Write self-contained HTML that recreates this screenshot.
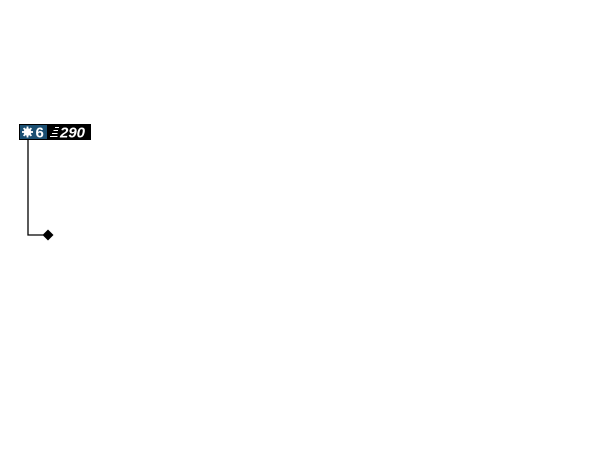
<!DOCTYPE html>
<html><head><style>
body{margin:0;width:600px;height:468px;background:#fff;position:relative;font-family:"Liberation Sans",sans-serif;}
</style></head><body>
<svg width="600" height="468" style="position:absolute;left:0;top:0">
<rect x="19" y="124" width="72" height="16" fill="#000"/>
<rect x="20" y="125" width="27" height="14" fill="#1b4f72"/>
<g fill="#fff">
<circle cx="27.5" cy="132" r="3.8"/>
<g stroke="#fff" stroke-width="1.8">
<line x1="27.5" y1="126.5" x2="27.5" y2="137.5"/><line x1="22" y1="132" x2="33" y2="132"/>
<line x1="23.6" y1="128.1" x2="31.4" y2="135.9"/><line x1="31.4" y1="128.1" x2="23.6" y2="135.9"/>
</g>
<text x="35.5" y="137.5" font-size="15" font-weight="bold">6</text>
<g stroke="#fff" stroke-width="1"><line x1="55" y1="127.5" x2="59" y2="127.5"/><line x1="53.5" y1="130.5" x2="58" y2="130.5"/><line x1="52" y1="133.5" x2="57.5" y2="133.5"/><line x1="50" y1="136.5" x2="57.5" y2="136.5"/></g>
<text x="60" y="137.5" font-size="15" font-weight="bold" font-style="italic">290</text>
</g>
<polyline points="28,140 28,235 43,235" fill="none" stroke="#000" stroke-width="1.3"/>
<polygon points="48,229.5 53.5,235 48,240.5 42.5,235" fill="#000"/>
</svg>
</body></html>
